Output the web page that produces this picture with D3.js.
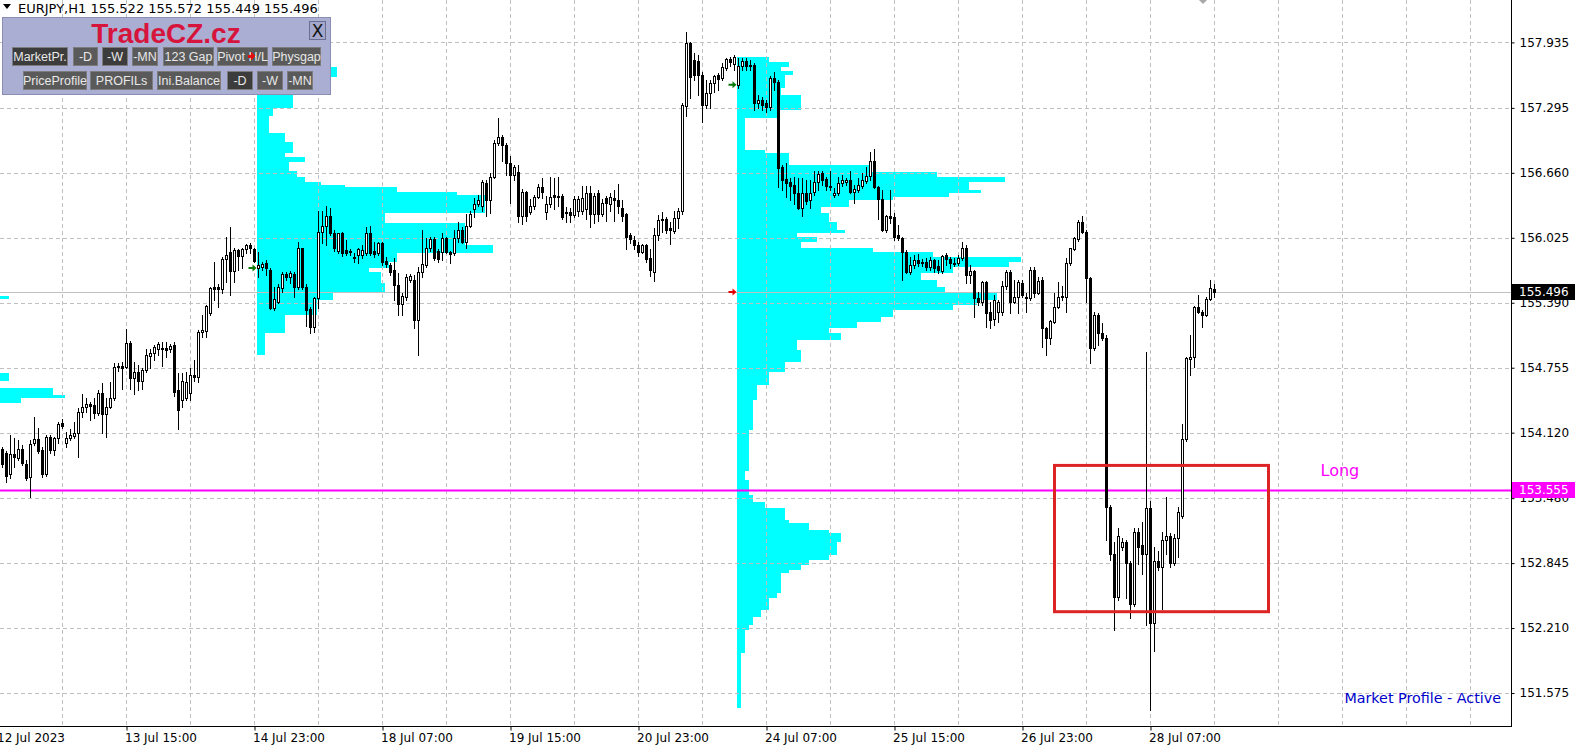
<!DOCTYPE html>
<html>
<head>
<meta charset="utf-8">
<script src="https://cdn.jsdelivr.net/npm/d3@7"></script>
<style>
body { margin: 0; background: #fff; overflow: hidden; }
svg { display: block; }
</style>
</head>
<body>
<script>
// ---- data ----
const symbol = "EURJPY,H1";
const lastQuote = [155.522, 155.572, 155.449, 155.496];
const firstBar = 1;   // bar index of first candle (bar 0 = 12 Jul 07:00)

// hourly candles [open, high, low, close]
const candles = [
[153.96,153.98,153.78,153.81],[153.92,153.94,153.64,153.70],[153.72,154.10,153.68,153.91],[153.91,154.07,153.78,153.88],
[153.87,154.05,153.85,153.96],[153.96,154.00,153.80,153.82],[153.81,153.85,153.66,153.68],[153.69,154.05,153.49,154.01],
[154.02,154.27,154.00,154.06],[154.06,154.17,153.92,153.94],[153.95,153.98,153.69,153.72],[153.72,154.10,153.70,154.08],
[154.08,154.10,153.92,153.95],[153.95,154.08,153.90,154.07],[154.07,154.22,154.02,154.20],[154.21,154.25,154.17,154.19],
[154.02,154.13,153.98,154.07],[154.07,154.16,154.05,154.10],[154.09,154.22,154.07,154.12],[154.12,154.36,153.88,154.32],
[154.32,154.50,154.27,154.37],[154.37,154.46,154.32,154.40],[154.40,154.42,154.24,154.38],[154.39,154.46,154.26,154.31],
[154.31,154.54,154.29,154.51],[154.51,154.61,154.12,154.30],[154.30,154.46,154.08,154.37],[154.37,154.62,154.36,154.46],
[154.46,154.80,154.44,154.76],[154.76,154.80,154.72,154.77],[154.77,154.81,154.55,154.75],[154.76,155.13,154.75,155.00],
[155.00,155.02,154.55,154.65],[154.65,154.81,154.50,154.71],[154.71,154.78,154.54,154.63],[154.63,154.75,154.55,154.73],
[154.73,154.94,154.71,154.88],[154.87,154.94,154.75,154.90],[154.90,154.98,154.83,154.96],[154.94,155.01,154.88,154.99],
[154.95,155.01,154.77,154.94],[154.95,155.01,154.86,154.93],[154.94,154.99,154.91,154.97],[154.98,155.01,154.48,154.52],
[154.54,154.70,154.16,154.34],[154.44,154.70,154.37,154.63],[154.46,154.71,154.44,154.62],[154.51,154.75,154.44,154.68],
[154.68,154.83,154.63,154.66],[154.66,155.12,154.62,155.10],[155.10,155.27,155.06,155.12],[155.11,155.37,155.06,155.36],
[155.29,155.54,155.27,155.53],[155.54,155.79,155.42,155.52],[155.54,155.57,155.35,155.52],[155.52,155.84,155.49,155.82],
[155.82,156.03,155.59,155.86],[155.89,156.13,155.47,155.70],[155.70,155.93,155.59,155.91],[155.91,155.92,155.71,155.85],
[155.85,155.93,155.73,155.92],[155.92,155.96,155.88,155.95],[155.95,155.97,155.88,155.93],[155.92,155.93,155.79,155.80],
[155.73,155.89,155.64,155.76],[155.74,155.79,155.71,155.77],[155.78,155.81,155.66,155.73],[155.71,155.73,155.33,155.34],
[155.34,155.54,155.32,155.43],[155.40,155.57,155.39,155.54],[155.53,155.69,155.50,155.67],[155.67,155.69,155.61,155.64],
[155.64,155.70,155.58,155.68],[155.67,155.69,155.45,155.54],[155.54,155.98,155.52,155.93],[155.93,155.93,155.52,155.54],
[155.54,155.57,155.16,155.32],[155.33,155.35,155.09,155.15],[155.15,155.45,155.10,155.44],[155.44,156.29,155.34,156.08],
[156.08,156.29,155.97,156.14],[156.14,156.34,155.95,156.24],[156.24,156.32,156.05,156.07],[156.07,156.10,155.90,155.93],
[155.90,156.07,155.88,156.07],[156.07,156.08,155.85,155.88],[155.91,156.00,155.86,155.88],[155.90,155.92,155.86,155.89],
[155.84,155.88,155.79,155.83],[155.86,155.93,155.78,155.92],[155.86,155.95,155.83,155.91],[155.88,156.13,155.86,156.07],
[156.07,156.14,155.86,155.88],[155.90,155.98,155.84,155.87],[155.88,155.98,155.86,155.97],[155.97,155.98,155.76,155.79],
[155.80,155.84,155.74,155.77],[155.76,155.78,155.66,155.69],[155.71,155.83,155.42,155.56],[155.56,155.68,155.27,155.38],
[155.38,155.49,155.27,155.46],[155.45,155.67,155.42,155.64],[155.61,155.67,155.59,155.65],[155.61,155.66,155.14,155.22],
[155.22,155.74,154.88,155.69],[155.69,156.10,155.64,155.77],[155.76,156.02,155.74,155.93],[155.93,156.03,155.90,156.01],
[156.01,156.03,155.81,155.83],[155.90,155.92,155.79,155.82],[155.89,156.07,155.81,156.02],[156.02,156.03,155.88,155.89],
[155.89,155.90,155.78,155.87],[155.88,156.10,155.86,156.02],[156.02,156.18,155.98,156.10],[156.10,156.13,155.97,155.98],
[155.98,156.26,155.93,156.14],[156.14,156.29,156.13,156.26],[156.31,156.41,156.23,156.36],[156.36,156.44,156.34,156.39],
[156.34,156.59,156.29,156.57],[156.56,156.59,156.24,156.39],[156.39,156.66,156.27,156.62],[156.62,156.98,156.61,156.95],
[156.95,157.20,156.93,157.01],[157.01,157.03,156.78,156.93],[156.93,156.95,156.64,156.76],[156.76,156.82,156.37,156.64],
[156.64,156.74,156.59,156.72],[156.67,156.74,156.18,156.24],[156.24,156.50,156.16,156.47],[156.47,156.48,156.19,156.24],
[156.28,156.40,156.26,156.34],[156.34,156.44,156.31,156.42],[156.42,156.55,156.41,156.52],[156.52,156.61,156.41,156.47],
[156.28,156.43,156.21,156.36],[156.36,156.62,156.33,156.42],[156.44,156.61,156.31,156.42],[156.43,156.62,156.34,156.42],
[156.43,156.45,156.21,156.23],[156.27,156.33,156.18,156.28],[156.28,156.32,156.18,156.25],[156.25,156.43,156.23,156.40],
[156.29,156.43,156.24,156.40],[156.29,156.53,156.26,156.41],[156.31,156.53,156.21,156.46],[156.46,156.53,156.13,156.26],
[156.26,156.46,156.17,156.43],[156.46,156.49,156.19,156.26],[156.26,156.40,156.24,156.37],[156.41,156.43,156.19,156.37],
[156.36,156.46,156.29,156.42],[156.41,156.49,156.19,156.39],[156.39,156.55,156.27,156.34],[156.32,156.39,156.19,156.24],
[156.26,156.27,155.92,156.03],[156.05,156.07,155.97,156.01],[156.00,156.04,155.92,155.95],[155.95,155.98,155.85,155.89],
[155.89,155.96,155.88,155.95],[155.95,155.96,155.79,155.82],[155.83,155.92,155.65,155.71],[155.69,156.12,155.60,156.05],
[156.05,156.25,156.00,156.20],[156.20,156.28,156.08,156.21],[156.21,156.23,156.07,156.10],[156.12,156.18,155.96,156.10],
[156.09,156.29,156.07,156.22],[156.22,156.32,156.12,156.29],[156.29,157.34,156.26,157.32],[157.31,158.04,157.22,157.93],
[157.93,157.94,157.39,157.60],[157.76,157.83,157.57,157.62],[157.75,157.81,157.42,157.62],[157.62,157.65,157.16,157.32],
[157.32,157.57,157.29,157.44],[157.44,157.57,157.29,157.54],[157.54,157.62,157.45,157.61],[157.62,157.64,157.47,157.58],
[157.59,157.73,157.57,157.69],[157.68,157.78,157.67,157.77],[157.77,157.79,157.70,157.74],[157.72,157.81,157.67,157.79],
[157.52,157.78,157.49,157.70],[157.70,157.78,157.67,157.75],[157.75,157.78,157.67,157.70],[157.71,157.76,157.67,157.70],
[157.71,157.73,157.27,157.34],[157.34,157.42,157.29,157.37],[157.37,157.40,157.27,157.32],[157.34,157.37,157.25,157.30],
[157.30,157.61,157.27,157.59],[157.59,157.65,157.47,157.55],[157.55,157.57,156.52,156.71],[156.72,156.74,156.49,156.59],
[156.60,156.76,156.42,156.56],[156.57,156.61,156.39,156.53],[156.54,156.62,156.36,156.46],[156.46,156.61,156.31,156.32],
[156.32,156.61,156.24,156.46],[156.46,156.59,156.36,156.38],[156.39,156.59,156.32,156.46],[156.47,156.68,156.44,156.57],
[156.57,156.68,156.49,156.65],[156.66,156.68,156.54,156.59],[156.60,156.62,156.49,156.53],[156.53,156.68,156.49,156.52],
[156.44,156.51,156.42,156.46],[156.46,156.62,156.44,156.56],[156.56,156.64,156.53,156.59],[156.57,156.61,156.54,156.59],
[156.59,156.68,156.46,156.47],[156.47,156.54,156.37,156.50],[156.49,156.61,156.47,156.54],[156.53,156.66,156.51,156.59],
[156.58,156.72,156.56,156.63],[156.63,156.86,156.59,156.78],[156.78,156.89,156.51,156.52],[156.52,156.53,156.21,156.40],
[156.40,156.49,156.09,156.10],[156.10,156.25,156.08,156.24],[156.24,156.49,156.17,156.22],[156.23,156.27,156.00,156.03],
[156.05,156.15,156.00,156.02],[156.02,156.03,155.61,155.89],[155.89,155.91,155.68,155.69],[155.69,155.84,155.67,155.76],
[155.76,155.86,155.73,155.81],[155.81,155.87,155.75,155.78],[155.78,155.82,155.75,155.79],[155.79,155.83,155.71,155.74],
[155.74,155.84,155.71,155.81],[155.81,155.82,155.69,155.73],[155.75,155.81,155.68,155.71],[155.70,155.86,155.68,155.85],
[155.86,155.88,155.76,155.82],[155.82,155.84,155.73,155.78],[155.78,155.83,155.75,155.77],[155.78,155.86,155.76,155.83],
[155.83,155.98,155.81,155.93],[155.93,155.95,155.58,155.66],[155.66,155.76,155.58,155.70],[155.70,155.71,155.25,155.44],
[155.44,155.50,155.37,155.40],[155.40,155.60,155.37,155.59],[155.59,155.60,155.15,155.29],[155.30,155.40,155.14,155.22],
[155.23,155.47,155.17,155.42],[155.30,155.42,155.20,155.40],[155.30,155.60,155.27,155.55],[155.55,155.71,155.52,155.69],
[155.69,155.71,155.29,155.40],[155.40,155.61,155.39,155.45],[155.45,155.61,155.29,155.59],[155.58,155.61,155.45,155.47],
[155.45,155.49,155.30,155.44],[155.44,155.74,155.42,155.71],[155.71,155.74,155.45,155.49],[155.49,155.64,155.48,155.60],
[155.61,155.64,154.96,155.14],[155.14,155.15,154.88,155.05],[155.05,155.22,154.99,155.21],[155.20,155.49,155.19,155.35],
[155.35,155.59,155.34,155.45],[155.45,155.55,155.42,155.46],[155.45,155.83,155.30,155.78],[155.78,155.93,155.76,155.93],
[155.92,156.03,155.91,156.02],[156.01,156.20,155.99,156.18],[156.18,156.24,156.07,156.08],[156.08,156.10,155.40,155.63],
[155.63,155.64,154.80,154.95],[154.95,155.30,154.93,155.27],[155.27,155.29,154.98,155.09],[155.09,155.19,155.03,155.05],
[155.05,155.07,153.07,153.39],[153.39,153.41,152.88,152.93],[152.93,153.05,152.19,152.51],[152.51,153.19,152.48,153.11],
[153.00,153.09,152.97,153.05],[153.05,153.07,152.50,152.85],[152.85,152.87,152.31,152.45],[152.45,153.19,152.43,153.15],
[153.15,153.19,152.84,153.00],[153.02,153.25,152.74,152.93],[152.93,154.91,152.24,153.38],[153.38,153.45,151.41,152.26],
[152.26,153.00,151.99,152.87],[152.87,152.96,152.78,152.81],[152.81,153.15,152.40,153.07],[153.07,153.49,152.93,153.11],
[153.11,153.14,152.81,152.85],[152.85,153.13,152.83,153.09],[153.09,153.39,152.90,153.34],[153.31,154.20,153.29,154.06],
[154.06,154.86,154.04,154.85],[154.84,155.07,154.68,154.86],[154.86,155.36,154.76,155.35],[155.35,155.47,155.29,155.30],
[155.30,155.32,155.15,155.27],[155.27,155.45,155.26,155.43],[155.43,155.61,155.42,155.53],[155.522,155.572,155.449,155.496]
];

// weekly market profiles: [price high, price low, TPO count]
const profile1Start = -55;  // week of 10 Jul
const profile1 = [
[155.46,155.43,58],[154.70,154.63,58],[154.63,154.56,50],[154.56,154.49,69],[154.49,154.46,72],[154.46,154.41,61]
];
const profile2Start = 65;   // week of 17 Jul
const profile2 = [
[158.06,157.96,5],[157.96,157.86,10],[157.86,157.76,14],[157.76,157.69,18],[157.69,157.60,20],[157.60,157.49,16],
[157.49,157.42,12],[157.42,157.29,9],[157.29,157.22,4],[157.22,157.16,3],[157.16,157.05,3],[157.05,156.96,7],
[156.96,156.85,9],[156.85,156.81,7],[156.81,156.77,12],[156.77,156.68,8],[156.68,156.62,10],[156.62,156.57,12],
[156.57,156.54,16],[156.54,156.52,22],[156.52,156.47,35],[156.47,156.44,50],[156.44,156.27,57],[156.27,156.17,32],
[156.17,155.95,52],[155.95,155.88,59],[155.88,155.79,35],[155.79,155.73,33],[155.73,155.69,28],[155.69,155.58,31],
[155.58,155.49,32],[155.49,155.42,19],[155.42,155.27,15],[155.27,155.09,7],[155.09,154.88,2]
];
const profile3Start = 185;  // week of 24 Jul
const profile3 = [
[157.79,157.74,8],[157.74,157.69,13],[157.69,157.66,11],[157.66,157.62,14],[157.62,157.49,12],[157.49,157.42,11],
[157.42,157.27,16],[157.27,157.20,10],[157.20,156.88,2],[156.88,156.85,7],[156.85,156.74,13],[156.74,156.67,33],
[156.67,156.62,50],[156.62,156.57,67],[156.57,156.49,58],[156.49,156.46,61],[156.46,156.42,53],[156.42,156.39,39],
[156.39,156.33,28],[156.33,156.27,21],[156.27,156.18,23],[156.18,156.10,25],[156.10,156.07,27],[156.07,156.03,15],
[156.03,155.98,20],[155.98,155.93,16],[155.93,155.89,34],[155.89,155.84,49],[155.84,155.79,71],[155.79,155.74,68],
[155.74,155.68,54],[155.68,155.61,46],[155.61,155.54,50],[155.54,155.49,52],[155.49,155.42,65],[155.42,155.37,60],
[155.37,155.32,54],[155.32,155.25,39],[155.25,155.20,36],[155.20,155.14,30],[155.14,155.09,23],[155.09,155.03,26],
[155.03,154.93,15],[154.93,154.81,16],[154.81,154.71,12],[154.71,154.59,8],[154.59,154.44,5],[154.44,154.15,4],
[154.15,153.75,3],[153.75,153.66,2],[153.66,153.51,3],[153.51,153.44,4],[153.44,153.38,7],[153.38,153.27,12],
[153.27,153.24,13],[153.24,153.17,18],[153.17,153.14,23],[153.14,153.05,26],[153.05,152.92,25],[152.92,152.88,23],
[152.88,152.83,18],[152.83,152.78,16],[152.78,152.75,13],[152.75,152.55,11],[152.55,152.50,10],[152.50,152.39,8],
[152.39,152.32,6],[152.32,152.24,4],[152.24,152.19,3],[152.19,151.97,2],[151.97,151.43,1]
];

const xTickBars = [0, 32, 64, 96, 128, 160, 192, 224, 256, 288];
const xTickLabels = ["12 Jul 2023", "13 Jul 15:00", "14 Jul 23:00", "18 Jul 07:00", "19 Jul 15:00",
                     "20 Jul 23:00", "24 Jul 07:00", "25 Jul 15:00", "26 Jul 23:00", "28 Jul 07:00"];
const yTicks = [157.935, 157.295, 156.660, 156.025, 155.390, 154.755, 154.120, 153.480, 152.845, 152.210, 151.575];

const longLevel = 153.555;
const zone = {fromBar: 264, toBar: 317.5, hi: 153.80, lo: 152.37};

// ---- layout ----
const W = 1581, H = 755;
const right = 1511, bottom = 727;
const FONT = "DejaVu Sans, sans-serif";

const x = d3.scaleLinear().domain([0, 378]).range([-1.5, 1510.5]);
const y = d3.scaleLinear().domain([151.243, 158.3495]).range([bottom, 0]);
const step = x(1) - x(0);
const fmt = d3.format(".3f");

const svg = d3.select("body").append("svg").attr("width", W).attr("height", H);
svg.append("defs").append("clipPath").attr("id", "plot")
  .append("rect").attr("width", right).attr("height", bottom);
const plot = svg.append("g").attr("clip-path", "url(#plot)");

// profiles
function drawProfile(rows, start) {
  const x0 = x(start) - 2;
  plot.append("g").attr("shape-rendering", "crispEdges")
    .selectAll("rect").data(rows).join("rect")
    .attr("x", x0)
    .attr("y", d => Math.round(y(d[0])))
    .attr("width", d => d[2] * step)
    .attr("height", d => Math.round(y(d[1])) - Math.round(y(d[0])))
    .attr("fill", "#00ffff");
}
drawProfile(profile1, profile1Start);
drawProfile(profile2, profile2Start);
drawProfile(profile3, profile3Start);

// grid
const grid = plot.append("g").attr("stroke", "#c0c0c0").attr("stroke-dasharray", "4,3")
  .attr("shape-rendering", "crispEdges");
grid.selectAll("line.h").data(yTicks).join("line").attr("class", "h")
  .attr("x1", 0).attr("x2", right)
  .attr("y1", d => Math.round(y(d)) + 0.5).attr("y2", d => Math.round(y(d)) + 0.5);
grid.selectAll("line.v").data(d3.range(0, 370, 16)).join("line").attr("class", "v")
  .attr("x1", d => x(d)).attr("x2", d => x(d))
  .attr("y1", 0).attr("y2", bottom);

// current price line
const last = lastQuote[3];
plot.append("line").attr("x1", 0).attr("x2", right)
  .attr("y1", Math.round(y(last)) + 0.5).attr("y2", Math.round(y(last)) + 0.5)
  .attr("stroke", "#c0c0c0");

// week open markers
function arrow(cx, cy, color) {
  plot.append("path")
    .attr("d", `M${cx - 6},${cy - 1}h4v-2.5l4,3.5l-4,3.5v-2.5h-4z`)
    .attr("fill", color);
}
arrow(x(profile2Start) - 4, y(candles[profile2Start - firstBar][0]), "#0a7a0a");
arrow(x(profile3Start) - 4, y(candles[profile3Start - firstBar][0]), "#0a7a0a");
arrow(x(profile3Start) - 4, y(last), "#e00000");

// long level
plot.append("line").attr("x1", 0).attr("x2", right)
  .attr("y1", y(longLevel)).attr("y2", y(longLevel))
  .attr("stroke", "#ff00ff").attr("stroke-width", 2);

// candles
const cdata = candles.map((d, k) => ({i: firstBar + k, o: d[0], h: d[1], l: d[2], c: d[3]}));
const cg = plot.append("g").attr("shape-rendering", "crispEdges");
cg.selectAll("rect.w").data(cdata).join("rect").attr("class", "w")
  .attr("x", d => x(d.i) - 0.5)
  .attr("y", d => Math.round(y(d.h)))
  .attr("width", 1)
  .attr("height", d => Math.round(y(d.l)) - Math.round(y(d.h)) + 1)
  .attr("fill", "#000");
cg.selectAll("rect.b").data(cdata).join("rect").attr("class", "b")
  .attr("x", d => x(d.i) - 1.5)
  .attr("y", d => Math.round(y(Math.max(d.o, d.c))))
  .attr("width", 3)
  .attr("height", d => Math.round(y(Math.min(d.o, d.c))) - Math.round(y(Math.max(d.o, d.c))) + 1)
  .attr("fill", "#000");
cg.selectAll("rect.f").data(cdata.filter(d => d.c > d.o)).join("rect").attr("class", "f")
  .attr("x", d => x(d.i) - 0.5)
  .attr("y", d => Math.round(y(d.c)) + 1)
  .attr("width", 1)
  .attr("height", d => Math.max(0, Math.round(y(d.o)) - Math.round(y(d.c)) - 1))
  .attr("fill", "#fff");

// zone rectangle and label
plot.append("rect")
  .attr("x", x(zone.fromBar)).attr("y", y(zone.hi))
  .attr("width", x(zone.toBar) - x(zone.fromBar)).attr("height", y(zone.lo) - y(zone.hi))
  .attr("fill", "none").attr("stroke", "#dd2424").attr("stroke-width", 3);
plot.append("text").text("Long")
  .attr("x", x(330.5)).attr("y", y(longLevel) - 14)
  .attr("font-family", FONT).attr("font-size", 16).attr("fill", "#ff00ff");

plot.append("text").text("Market Profile - Active")
  .attr("x", 1501).attr("y", 703).attr("text-anchor", "end")
  .attr("font-family", FONT).attr("font-size", 14.3).attr("fill", "#0000cc");

// chart shift marker
svg.append("path").attr("d", "M1199,0h8l-4,4z").attr("fill", "#a8a8a8");

// axes
const yAxis = d3.axisRight(y).tickValues(yTicks).tickFormat(fmt).tickSize(3).tickPadding(5);
const gy = svg.append("g").attr("transform", `translate(${right + 0.5},0)`).call(yAxis);
gy.select(".domain").remove();
gy.selectAll("text").attr("font-family", FONT).attr("font-size", 12).attr("fill", "#000");

const xAxis = d3.axisBottom(x).tickValues(xTickBars).tickFormat((d, k) => xTickLabels[k])
  .tickSize(4).tickPadding(3);
const gx = svg.append("g").attr("transform", `translate(0,${bottom - 0.5})`).call(xAxis);
gx.select(".domain").remove();
gx.selectAll("text").attr("font-family", FONT).attr("font-size", 12).attr("fill", "#000")
  .attr("text-anchor", "start").attr("dx", -2);

svg.append("path").attr("d", `M${right + 0.5},0V${bottom}M0,${bottom - 0.5}H${right + 1}`)
  .attr("stroke", "#000").attr("fill", "none").attr("shape-rendering", "crispEdges");

// price label boxes
function priceBox(v, bg) {
  const yc = Math.round(y(v));
  svg.append("rect").attr("x", right + 1).attr("y", yc - 8).attr("width", 63).attr("height", 16)
    .attr("fill", bg);
  svg.append("text").text(fmt(v)).attr("x", right + 8).attr("y", yc).attr("dy", "0.36em")
    .attr("font-family", FONT).attr("font-size", 12).attr("fill", "#fff");
}
priceBox(last, "#000");
priceBox(longLevel, "#ff00ff");

// header line
svg.append("path").attr("d", "M3,4h8l-4,5z").attr("fill", "#000");
svg.append("text").text(symbol + "  " + lastQuote.map(fmt).join(" "))
  .attr("x", 18).attr("y", 12.5).attr("font-family", FONT).attr("font-size", 13).attr("fill", "#000");

// TradeCZ panel
const panel = svg.append("g").attr("shape-rendering", "crispEdges");
panel.append("rect").attr("x", 2.5).attr("y", 17.5).attr("width", 328).attr("height", 77)
  .attr("fill", "#aaaed2").attr("stroke", "#8a8db4");
panel.append("text").text("TradeCZ.cz").attr("x", 166).attr("y", 42.5).attr("text-anchor", "middle")
  .attr("font-family", "Liberation Sans, Arial, sans-serif").attr("font-weight", "bold")
  .attr("font-size", 28).attr("fill", "#d6143c").attr("shape-rendering", null);
panel.append("rect").attr("x", 309.5).attr("y", 21.5).attr("width", 16).attr("height", 18)
  .attr("fill", "#a3a7cc").attr("stroke", "#6a6d92");
panel.append("text").text("X").attr("x", 317.5).attr("y", 37).attr("text-anchor", "middle")
  .attr("font-family", FONT).attr("font-size", 17).attr("fill", "#111");

const buttons = [
  {t: "MarketPr.", x0: 12, x1: 67, r: 0, dark: true}, {t: "-D", x0: 73, x1: 97, r: 0},
  {t: "-W", x0: 102, x1: 127, r: 0, dark: true}, {t: "-MN", x0: 132, x1: 157, r: 0},
  {t: "123 Gap", x0: 163, x1: 213, r: 0}, {t: "Pivot H/L", x0: 217, x1: 267, r: 0},
  {t: "Physgap", x0: 272, x1: 320, r: 0},
  {t: "PriceProfile", x0: 23, x1: 86, r: 1}, {t: "PROFILs", x0: 90, x1: 152, r: 1},
  {t: "Ini.Balance", x0: 157, x1: 220, r: 1}, {t: "-D", x0: 227, x1: 252, r: 1, dark: true},
  {t: "-W", x0: 257, x1: 282, r: 1}, {t: "-MN", x0: 287, x1: 312, r: 1}
];
const rowY = [47, 71];
buttons.forEach(b => {
  panel.append("rect").attr("x", b.x0 + 0.5).attr("y", rowY[b.r] + 0.5)
    .attr("width", b.x1 - b.x0).attr("height", 18)
    .attr("fill", b.dark ? "#3c3c3c" : "#5a5a5a").attr("stroke", "#7c7c7c");
  panel.append("text").text(b.t).attr("x", (b.x0 + b.x1) / 2 + 0.5).attr("y", rowY[b.r] + 14)
    .attr("text-anchor", "middle").attr("font-family", "Liberation Sans, Arial, sans-serif")
    .attr("font-size", 12.5).attr("fill", "#e8e8e8");
});
panel.append("path").attr("d", "M251,52l5,4l-5,4v-2.5h-3v-3h3z").attr("fill", "#e01010");
</script>
</body>
</html>
